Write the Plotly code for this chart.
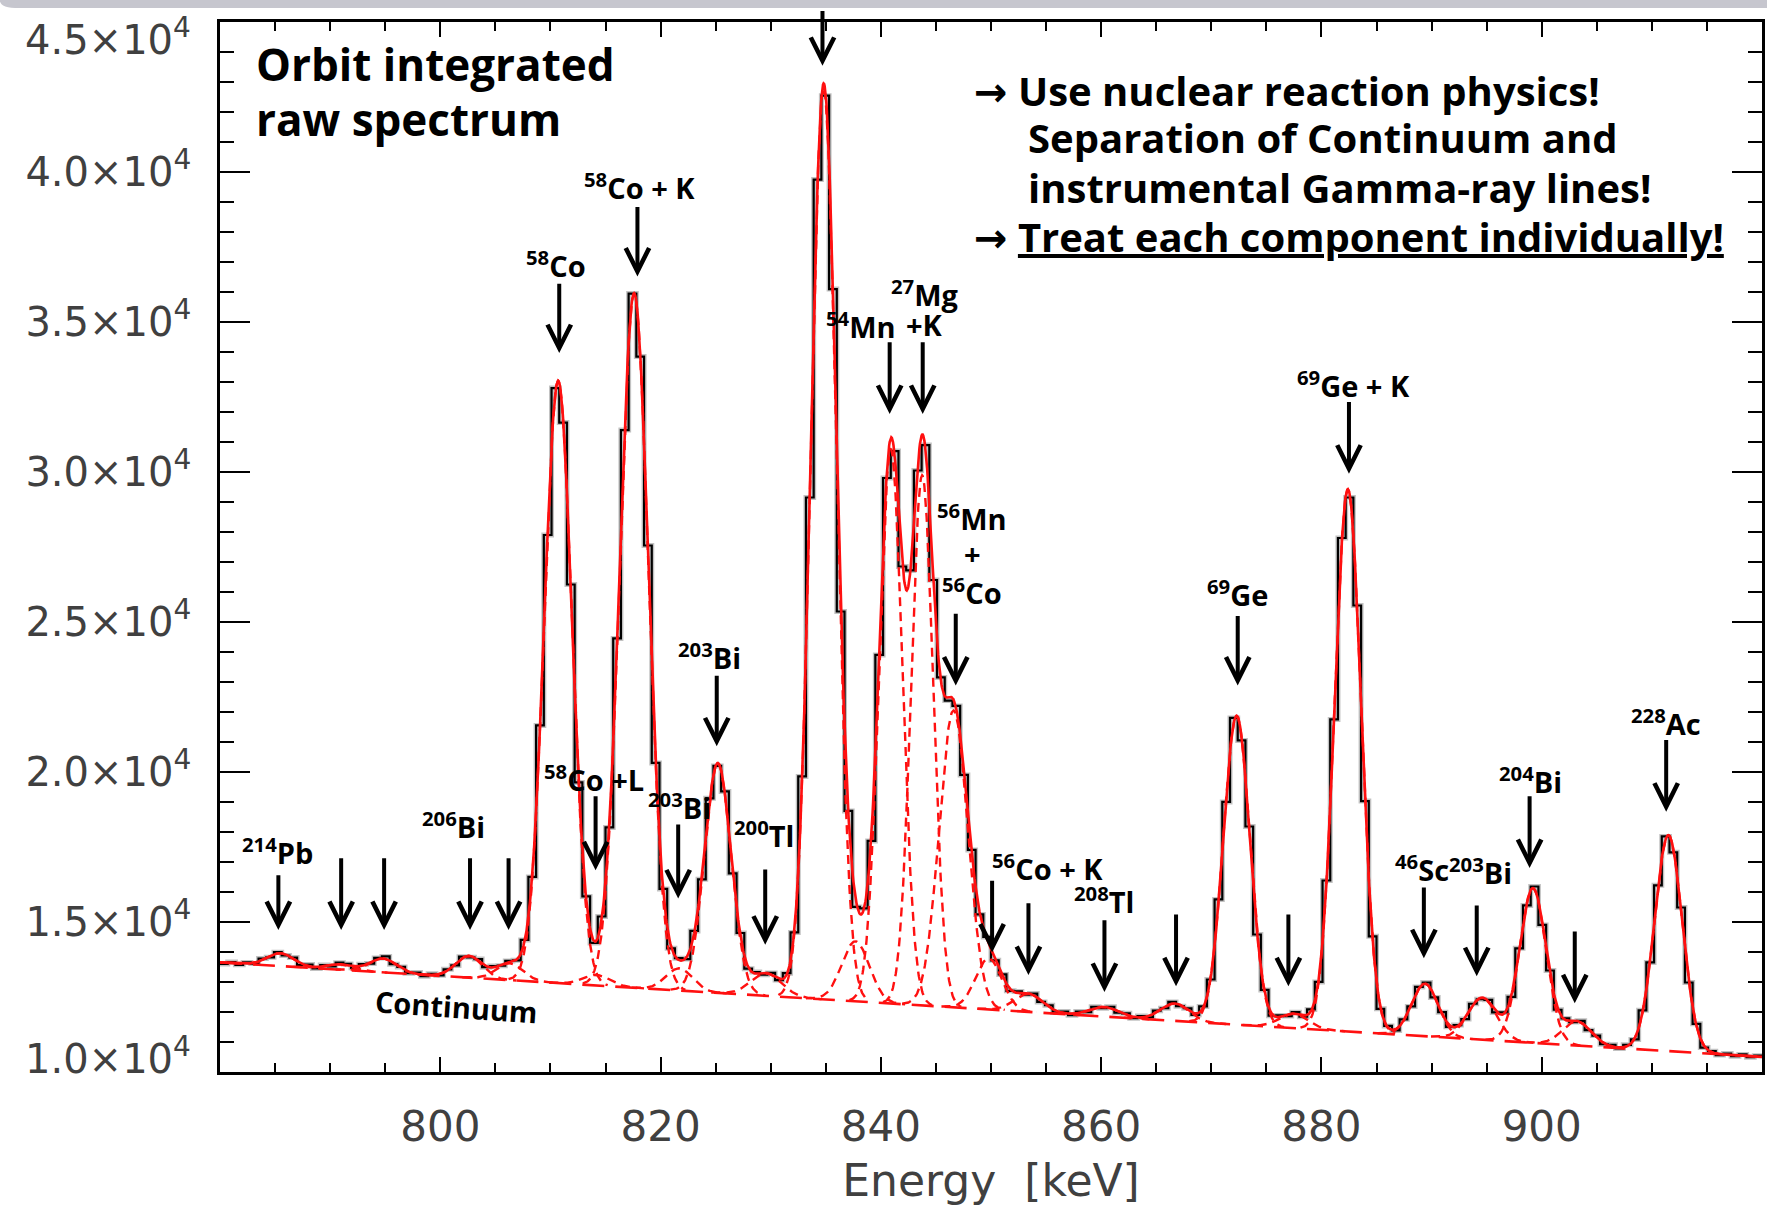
import numpy as np
import plotly.graph_objects as go

# ---------------- data ----------------
bin_start = 780.0      # keV, left edge of first bin
bin_width = 0.7        # keV
counts = [
    13600, 13660, 13570, 13650, 13610, 13780, 13820, 13990, 13880, 13810,
    13560, 13580, 13450, 13560, 13520, 13640, 13600, 13470, 13590, 13610,
    13800, 13850, 13590, 13500, 13290, 13310, 13190, 13270, 13220, 13420,
    13550, 13840, 13820, 13760, 13490, 13530, 13540, 13700, 13720, 14400,
    16500, 21550, 27900, 32800, 31650, 26250, 19650, 15850, 14300, 15180,
    18150, 24450, 31400, 35950, 33850, 27550, 20300, 16100, 14120, 13790,
    13760, 14700, 16420, 19120, 20200, 19350, 16620, 14630, 13440, 13330,
    13240, 13300, 13060, 13290, 14650, 19850, 29150, 39750, 42550, 36100,
    25350, 18700, 15500, 15450, 17700, 23900, 29800, 30700, 26850, 26720,
    30050, 30900, 26400, 23150, 22380, 22200, 19900, 17400, 15250, 14500,
    13720, 13250, 12700, 12680, 12570, 12610, 12330, 12220, 11980, 12010,
    11890, 12010, 11990, 12170, 12120, 12170, 11970, 11950, 11790, 11860,
    11820, 12040, 12120, 12330, 12190, 12120, 11900, 12180, 13080, 15750,
    19000, 21800, 21050, 18180, 14580, 12730, 11870, 11880, 11860, 11990,
    11840, 12080, 13000, 16380, 21750, 27800, 29150, 25550, 19030, 14520,
    12100, 11530, 11380, 11750, 12180, 12830, 12980, 12480, 11990, 11500,
    11560, 11760, 12270, 12420, 12400, 11980, 11980, 12500, 14120, 15550,
    16180, 14900, 13380, 12070, 11780, 11660, 11700, 11390, 11210, 10920,
    10900, 10780, 10900, 11080, 12050, 13650, 16220, 17850, 17320, 15480,
    12980, 11600, 10810, 10690, 10560, 10610, 10520, 10580, 10490, 10540,
]

# continuum (straight line between the two ends)
cont_energy = [780.0, 920.0]
cont_counts = [13650.0, 10500.0]

# fitted gamma-ray line components (centre keV, amplitude above continuum, sigma keV)
line_energy = [785.5, 790.9, 794.8, 802.6, 806.3, 810.7, 814.2, 817.6, 821.7, 825.2,
               829.6, 834.8, 837.7, 840.9, 843.75, 846.6, 849.8, 853.4, 860.3, 866.7,
               872.3, 877.5, 882.4, 889.4, 894.6, 899.2, 903.2, 911.5]
line_amp = [430, 180, 460, 720, 560, 20080, 350, 23145, 740, 7650,
            750, 30400, 2000, 18480, 17675, 9900, 1700, 600, 320, 580,
            10300, 480, 18080, 1750, 1400, 5150, 800, 7200]
line_sigma = [1.2, 1.2, 1.2, 1.2, 1.2, 1.25, 1.2, 1.3, 1.2, 1.2,
              1.4, 1.15, 1.25, 1.05, 1.0, 1.3, 1.2, 1.3, 1.3, 1.3,
              1.2, 1.3, 1.2, 1.2, 1.3, 1.2, 1.3, 1.25]

x_tickvals = [800, 820, 840, 860, 880, 900]
y_tickvals = [10000, 15000, 20000, 25000, 30000, 35000, 40000, 45000]
y_ticktext = ["1.0×10<sup>4</sup>", "1.5×10<sup>4</sup>", "2.0×10<sup>4</sup>",
              "2.5×10<sup>4</sup>", "3.0×10<sup>4</sup>", "3.5×10<sup>4</sup>",
              "4.0×10<sup>4</sup>", "4.5×10<sup>4</sup>"]

# isotope labels: text, energy, counts-level
label_text = ["<sup>214</sup>Pb", "<sup>206</sup>Bi", "<sup>58</sup>Co +L", "<sup>203</sup>Bi",
              "<sup>200</sup>Tl", "<sup>203</sup>Bi", "<sup>58</sup>Co", "<sup>58</sup>Co + K",
              "<sup>54</sup>Mn", "<sup>27</sup>Mg", "+K", "<sup>56</sup>Mn", "+", "<sup>56</sup>Co",
              "<sup>69</sup>Ge", "<sup>69</sup>Ge + K", "<sup>56</sup>Co + K", "<sup>208</sup>Tl",
              "<sup>46</sup>Sc", "<sup>203</sup>Bi", "<sup>204</sup>Bi", "<sup>228</sup>Ac"]
label_energy = [785.2, 801.2, 814.0, 821.7, 829.4, 824.4, 810.5, 818.1,
                838.2, 844.0, 844.0, 848.3, 848.3, 848.3,
                872.4, 882.9, 855.1, 860.3, 889.1, 894.4, 899.0, 911.3]
label_level = [17360, 18224, 19802, 18862, 17923, 23859, 36932, 39524,
               34904, 35956, 34904, 28517, 27277, 26038,
               25963, 32950, 16830, 15740, 16796, 16684, 19727, 21680]

# arrows: energy, tail level, tip level
arrow_energy = [785.3, 791.0, 794.9, 802.7, 806.2, 814.1, 821.6, 829.5, 825.1, 810.8,
                817.9, 834.7, 840.8, 843.8, 846.8, 872.4, 882.5, 850.1, 853.4, 860.3,
                866.8, 877.0, 889.3, 894.1, 898.9, 903.0, 911.3]
arrow_tail = [16609, 17172, 17172, 17172, 17172, 19238, 18299, 16796, 23258, 36331,
              38886, 45420, 34378, 34378, 25324, 25249, 32387, 16421, 15669, 15106,
              15294, 15294, 16195, 15594, 19238, 14730, 21116]
arrow_tip = [14730, 14730, 14730, 14730, 14730, 16721, 15781, 14242, 20854, 33965,
             36519, 43544, 31936, 31936, 22882, 22882, 29945, 13979, 13228, 12664,
             12852, 12852, 13791, 13190, 16796, 12288, 18674]

# ---------------- figure ----------------
RED = "#ff1010"
fig = go.Figure()

edges = bin_start + bin_width * np.arange(len(counts) + 1)
step_y = list(counts) + [counts[-1]]
fig.add_trace(go.Scatter(x=edges, y=step_y, mode="lines",
                         line=dict(color="rgba(120,120,120,0.45)", width=5, shape="hv"),
                         hoverinfo="skip"))
fig.add_trace(go.Scatter(x=edges, y=step_y, mode="lines",
                         line=dict(color="black", width=2.2, shape="hv")))

grid = np.linspace(cont_energy[0], cont_energy[1], 2801)
cont = np.interp(grid, cont_energy, cont_counts)
total = cont.copy()
for E, A, s in zip(line_energy, line_amp, line_sigma):
    g = A * np.exp(-0.5 * ((grid - E) / s) ** 2)
    total += g
    m = np.abs(grid - E) <= 3.6 * s
    fig.add_trace(go.Scatter(x=grid[m], y=cont[m] + g[m], mode="lines",
                             line=dict(color=RED, width=2.4, dash="9px,6px")))

fig.add_trace(go.Scatter(x=cont_energy, y=cont_counts, mode="lines",
                         line=dict(color=RED, width=2.6, dash="22px,11px")))
fig.add_trace(go.Scatter(x=grid, y=total, mode="lines",
                         line=dict(color=RED, width=2.6)))

ann = []
FAM = "Open Sans, DejaVu Sans, sans-serif"
LBL = dict(family=FAM, size=29, color="black")
for t, E, v in zip(label_text, label_energy, label_level):
    ann.append(dict(x=E, y=v, xref="x", yref="y", text="<b>" + t + "</b>",
                    showarrow=False, font=LBL, xanchor="center", yanchor="middle"))
for E, t0, t1 in zip(arrow_energy, arrow_tail, arrow_tip):
    ann.append(dict(x=E, y=t1, ax=E, ay=t0, xref="x", yref="y", axref="x", ayref="y",
                    text="", showarrow=True, arrowhead=5, arrowsize=1.15, arrowwidth=4,
                    arrowcolor="black", standoff=0, startstandoff=0))

ann.append(dict(x=801.5, y=12176, xref="x", yref="y", text="<b>Continuum</b>",
                showarrow=False, textangle=4, font=dict(family=FAM, size=29, color="black")))

TITLE = dict(family=FAM, size=44, color="black")
ann.append(dict(x=783.05, y=43590, xref="x", yref="y", text="<b>Orbit integrated</b>",
                showarrow=False, xanchor="left", yanchor="middle", font=TITLE))
ann.append(dict(x=783.05, y=41757, xref="x", yref="y", text="<b>raw spectrum</b>",
                showarrow=False, xanchor="left", yanchor="middle", font=TITLE))

NOTE = dict(family=FAM, size=40, color="black")
ann.append(dict(x=848.23, y=42723, xref="x", yref="y",
                text="<b>→ Use nuclear reaction physics!</b>",
                showarrow=False, xanchor="left", yanchor="middle", font=NOTE))
ann.append(dict(x=853.2, y=41157, xref="x", yref="y",
                text="<b>Separation of Continuum and</b>",
                showarrow=False, xanchor="left", yanchor="middle", font=NOTE))
ann.append(dict(x=853.2, y=39490, xref="x", yref="y",
                text="<b>instrumental Gamma-ray lines!</b>",
                showarrow=False, xanchor="left", yanchor="middle", font=NOTE))
ann.append(dict(x=848.23, y=37857, xref="x", yref="y",
                text="<b>→ <u>Treat each component individually!</u></b>",
                showarrow=False, xanchor="left", yanchor="middle", font=NOTE))

TICKF = dict(family="DejaVu Sans, sans-serif", size=40, color="#404040")

# the extreme tick labels sit slightly inside the frame, as in the original
axis_ticktext = [""] + y_ticktext[1:-1] + [""]
ann.append(dict(x=0, xref="paper", y=y_tickvals[-1], yref="y", text=y_ticktext[-1],
                showarrow=False, xanchor="right", yanchor="middle", xshift=-27, yshift=-15,
                font=TICKF))
ann.append(dict(x=0, xref="paper", y=y_tickvals[0], yref="y", text=y_ticktext[0],
                showarrow=False, xanchor="right", yanchor="middle", xshift=-27, yshift=16,
                font=TICKF))

fig.update_layout(
    width=1767, height=1210,
    margin=dict(l=220, r=5, t=22, b=138, autoexpand=False),
    paper_bgcolor="white", plot_bgcolor="white",
    showlegend=False,
    annotations=ann,
    shapes=[dict(type="path", xref="paper", yref="paper", layer="below",
                 path="M -0.1427,1.0215 L -0.1427,1.0205 Q -0.1427,1.0133 -0.1300,1.0133 "
                      "L 1.004,1.0133 L 1.004,1.0215 Z",
                 fillcolor="#c6c6ce", line=dict(width=0))],
    xaxis=dict(range=[780, 920], tickmode="array", tickvals=x_tickvals,
               automargin=False,
               ticks="inside", ticklen=15, tickwidth=2, tickcolor="black",
               showline=True, linecolor="black", linewidth=2.5, mirror="allticks",
               showgrid=False, zeroline=False, tickfont=dict(TICKF, size=42),
               ticklabelstandoff=16,
               minor=dict(tickmode="linear", tick0=780, dtick=5, ticks="inside",
                          ticklen=9, tickwidth=2, tickcolor="black", showgrid=False),
               title=dict(text="Energy  [keV]", font=dict(family="DejaVu Sans, sans-serif",
                                                        size=44, color="#404040"),
                          standoff=16)),
    yaxis=dict(range=[9995, 45005], tickmode="array", tickvals=y_tickvals,
               ticktext=axis_ticktext, automargin=False,
               ticks="inside", ticklen=30, tickwidth=2, tickcolor="black",
               showline=True, linecolor="black", linewidth=2.5, mirror="allticks",
               showgrid=False, zeroline=False, tickfont=TICKF,
               ticklabelstandoff=18,
               minor=dict(tickmode="linear", tick0=10000, dtick=1000, ticks="inside",
                          ticklen=14, tickwidth=2, tickcolor="black", showgrid=False)),
)

fig.write_html("out.html")
